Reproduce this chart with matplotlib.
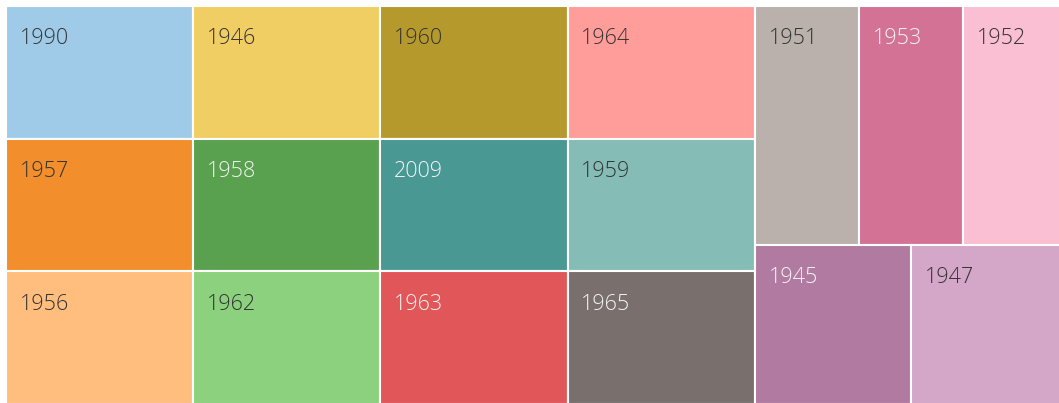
import matplotlib
matplotlib.use("Agg")
import matplotlib.pyplot as plt
from matplotlib.patches import Rectangle

labels = ["1990", "1957", "1956", "1946", "1958", "1962", "1960", "2009", "1963",
          "1964", "1959", "1965", "1951", "1953", "1952", "1945", "1947"]
values = [1, 1, 1, 1, 1, 1, 1, 1, 1, 1, 1, 1, 1, 1, 1, 1, 1]
colors = ["#A0CBE8", "#F28E2B", "#FFBE7D", "#F1CE63", "#59A14F", "#8CD17D",
          "#B6992D", "#499894", "#E15759", "#FF9D9A", "#86BCB6", "#79706E",
          "#BAB0AC", "#D37295", "#FABFD2", "#B07AA1", "#D4A6C8"]
light_text = ["1958", "2009", "1963", "1965", "1953", "1945"]


def squarify(vals, x0, y0, x1, y1, ratio=(1 + 5 ** 0.5) / 2):
    rects = []
    n = len(vals)
    i0 = i1 = 0
    value = float(sum(vals))
    while i0 < n:
        dx = x1 - x0
        dy = y1 - y0
        sum_v = vals[i1]
        i1 += 1
        min_v = max_v = sum_v
        alpha = max(dy / dx, dx / dy) / (value * ratio)
        beta = sum_v * sum_v * alpha
        min_ratio = max(max_v / beta, beta / min_v)
        while i1 < n:
            nv = vals[i1]
            sum_v += nv
            min_v = min(min_v, nv)
            max_v = max(max_v, nv)
            beta = sum_v * sum_v * alpha
            new_ratio = max(max_v / beta, beta / min_v)
            if new_ratio > min_ratio:
                sum_v -= nv
                break
            min_ratio = new_ratio
            i1 += 1
        row = vals[i0:i1]
        if dx < dy:
            h = dy * sum_v / value
            xx = x0
            for v in row:
                w = dx * v / sum_v
                rects.append((xx, y0, w, h))
                xx += w
            y0 += h
        else:
            w = dx * sum_v / value
            yy = y0
            for v in row:
                h = dy * v / sum_v
                rects.append((x0, yy, w, h))
                yy += h
            x0 += w
        value -= sum_v
        i0 = i1
    return rects


W, H = 1061.0, 398.0
fig = plt.figure(figsize=(10.59, 4.03), dpi=100)
ax = fig.add_axes([6 / 1059, -1 / 403, W / 1059, H / 403])
ax.set_xlim(0, W)
ax.set_ylim(H, 0)
ax.axis("off")

rects = squarify(values, 0, 0, W, H)
for (x, y, w, h), lab, col in zip(rects, labels, colors):
    ax.add_patch(Rectangle((x, y), w, h, facecolor=col, edgecolor="white",
                           linewidth=1.5))
    tc = "#f4f4f4" if lab in light_text else "#333333"
    ax.text(x + 13.5, y + 38.5, lab, fontsize=15.5, family="Open Sans",
            fontweight="light", color=tc, ha="left", va="baseline")

fig.savefig("out.png", dpi=100)
